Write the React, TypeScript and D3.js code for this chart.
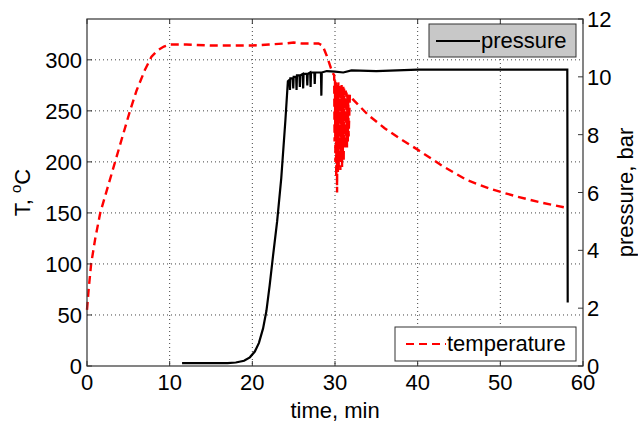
import React from "react";
import * as d3 from "d3";

const xTicks = [0, 10, 20, 30, 40, 50, 60];
const tTicks = [0, 50, 100, 150, 200, 250, 300];
const pTicks = [0, 2, 4, 6, 8, 10, 12];

const tempTime = [
  0, 0.2, 0.5, 1, 1.6, 2.5, 3.4, 4.3, 5.2, 6, 7, 7.8, 8.5, 9.3, 10, 12, 15, 18, 20, 22, 24, 25, 26, 28, 28.5, 29, 29.5, 29.8,
  29.9, 29.95, 30.0, 30.05, 30.1, 30.15, 30.2, 30.25, 30.3, 30.35, 30.4, 30.45, 30.5, 30.55, 30.6, 30.65, 30.7, 30.75,
  30.8, 30.85, 30.9, 30.95, 31.0, 31.05, 31.1, 31.15, 31.2, 31.25, 31.3, 31.35, 31.4, 31.45, 31.5, 31.55, 31.6, 31.65,
  31.8, 32.2, 34, 36, 38, 40, 43, 46, 49, 52, 55, 58, 58.2,
];
const tempValue = [
  55, 75, 100, 125, 150, 175, 200, 225, 250, 270, 290, 303, 309, 313, 315, 315, 314, 314, 314, 315, 316, 317, 316, 316, 314, 304, 292, 286,
  285, 220, 280, 200, 278, 185, 276, 170, 275, 190, 278, 195, 276, 200, 275, 192, 274, 205,
  276, 195, 272, 210, 274, 200, 272, 215, 270, 212, 270, 218, 268, 214, 268, 220, 266, 225,
  266, 261, 246, 233, 222, 212, 196, 182, 173, 166, 160, 155, 154,
];

const presTime = [
  11.5, 17, 18, 19, 19.7, 20.3, 20.8, 21.3, 21.7, 22.1, 22.5, 23, 23.5, 24, 24.3,
  24.5, 24.55, 24.6, 24.9, 24.95, 25.0, 25.3, 25.35, 25.4, 25.7, 25.75, 25.8, 26.1, 26.15, 26.2,
  26.6, 26.65, 26.7, 27.0, 27.05, 27.1, 27.5, 27.55, 27.6, 28.3, 28.35, 28.4,
  29, 30, 31, 32, 35, 40, 50, 58.1, 58.15,
];
const presValue = [
  0.1, 0.1, 0.12, 0.18, 0.3, 0.5, 0.8, 1.3, 1.9, 2.8, 3.8, 5, 6.5, 8.5, 9.85,
  9.9, 9.55, 9.95, 9.95, 9.6, 10.0, 10.0, 9.55, 10.05, 10.05, 9.65, 10.05, 10.1, 9.6, 10.1,
  10.1, 9.7, 10.1, 10.15, 9.65, 10.15, 10.15, 9.75, 10.15, 10.15, 9.35, 10.15,
  10.2, 10.18, 10.15, 10.22, 10.2, 10.25, 10.25, 10.25, 2.2,
];

const W = 638;
const H = 427;
const L = 87, R = 583, T = 19, B = 366;
const FONT = "'Liberation Sans', Arial, sans-serif";
const FS = 22;

export default function App() {
  const x = d3.scaleLinear().domain([0, 60]).range([L, R]);
  const yT = d3.scaleLinear().domain([0, 340]).range([B, T]);
  const yP = d3.scaleLinear().domain([0, 12]).range([B, T]);

  const tempLine = d3.line<number>().x((_, i) => x(tempTime[i])).y((d) => yT(d));
  const presLine = d3.line<number>().x((_, i) => x(presTime[i])).y((d) => yP(d));

  return (
    <svg width={W} height={H} style={{ position: "absolute", left: 0, top: 0, background: "#fff" }}>
      <rect x={0} y={0} width={W} height={H} fill="#fff" />
      {xTicks.slice(1, -1).map((t) => (
        <line key={"gx" + t} x1={x(t)} x2={x(t)} y1={T} y2={B} stroke="#444" strokeWidth={1} strokeDasharray="1,3" />
      ))}
      {tTicks.slice(1).map((t) => (
        <line key={"gy" + t} x1={L} x2={R} y1={yT(t)} y2={yT(t)} stroke="#444" strokeWidth={1} strokeDasharray="1,3" />
      ))}
      <path d={presLine(presValue) || ""} fill="none" stroke="#000" strokeWidth={2.2} />
      <path d={tempLine(tempValue) || ""} fill="none" stroke="#ff0000" strokeWidth={2.4} strokeDasharray="8,5" />
      <rect x={L} y={T} width={R - L} height={B - T} fill="none" stroke="#333" strokeWidth={1.2} />
      {xTicks.map((t) => (
        <g key={"xt" + t}>
          <line x1={x(t)} x2={x(t)} y1={B} y2={B - 5} stroke="#333" />
          <line x1={x(t)} x2={x(t)} y1={T} y2={T + 5} stroke="#333" />
          <text x={x(t)} y={390} textAnchor="middle" fontFamily={FONT} fontSize={FS} fill="#000">{t}</text>
        </g>
      ))}
      {tTicks.map((t) => (
        <g key={"yt" + t}>
          <line x1={L} x2={L + 5} y1={yT(t)} y2={yT(t)} stroke="#333" />
          <text x={L - 5} y={yT(t) + 8} textAnchor="end" fontFamily={FONT} fontSize={FS} fill="#000">{t}</text>
        </g>
      ))}
      {pTicks.map((t) => (
        <g key={"pt" + t}>
          <line x1={R - 5} x2={R} y1={yP(t)} y2={yP(t)} stroke="#333" />
          <text x={R + 4} y={yP(t) + 8} textAnchor="start" fontFamily={FONT} fontSize={FS} fill="#000">{t}</text>
        </g>
      ))}
      <text x={(L + R) / 2} y={418} textAnchor="middle" fontFamily={FONT} fontSize={FS} fill="#000">time, min</text>
      <text transform={`translate(30,${(T + B) / 2}) rotate(-90)`} textAnchor="middle" fontFamily={FONT} fontSize={FS} fill="#000">
        T, <tspan dy={-9} fontSize={15}>o</tspan><tspan dy={9}>C</tspan>
      </text>
      <text transform={`translate(633,${(T + B) / 2}) rotate(-90)`} textAnchor="middle" fontFamily={FONT} fontSize={FS} fill="#000">pressure, bar</text>
      <rect x={429} y={24} width={147} height={33} fill="#c8c8c8" stroke="#333" strokeWidth={1} />
      <line x1={436} x2={480} y1={41} y2={41} stroke="#000" strokeWidth={2} />
      <text x={481} y={48} fontFamily={FONT} fontSize={FS} fill="#000">pressure</text>
      <rect x={395} y={327} width={181} height={34} fill="#fff" stroke="#333" strokeWidth={1} />
      <line x1={406} x2={446} y1={344} y2={344} stroke="#ff0000" strokeWidth={2} strokeDasharray="8,5" />
      <text x={447} y={351} fontFamily={FONT} fontSize={FS} fill="#000">temperature</text>
    </svg>
  );
}
